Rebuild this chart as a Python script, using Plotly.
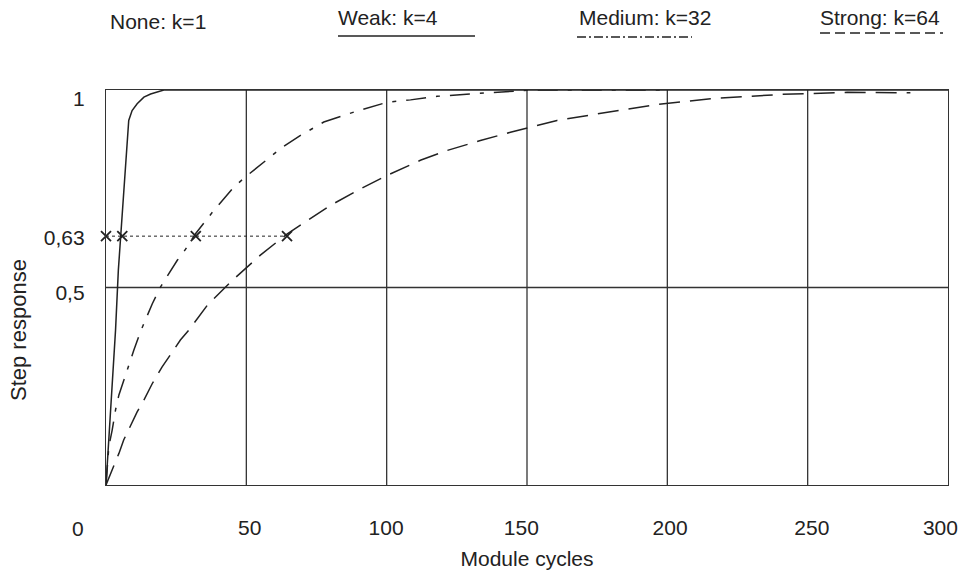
import plotly.graph_objects as go

# ---------------- data ----------------
weak_t = [0, 3.4, 4.4, 5.2, 7.8, 8.1, 9.3, 11.1, 13.5, 15.9, 20.6, 300]
weak_v = [0, 0.392, 0.544, 0.630, 0.893, 0.923, 0.948, 0.965, 0.982, 0.990, 1.0, 1.0]

medium_t = [0, 1.0, 2.2, 3.4, 4.6, 6.1, 9.9, 12.5, 16.5, 19.4, 25.4, 27.7, 31.9, 38.4,
            45.5, 49.7, 58.6, 62.8, 69.3, 77.6, 88.3, 100.2, 108.5, 118.0, 129.9,
            145.3, 152.3, 200]
medium_v = [0, 0.097, 0.139, 0.190, 0.228, 0.261, 0.341, 0.392, 0.459, 0.501, 0.569,
            0.590, 0.636, 0.695, 0.754, 0.780, 0.830, 0.855, 0.885, 0.919, 0.944,
            0.969, 0.975, 0.984, 0.990, 0.996, 1.0, 1.0]

strong_t = [0, 2.2, 4.6, 6.3, 9.3, 11.1, 13.5, 16.5, 20.0, 22.4, 26.5, 29.5, 36.1, 44.4,
            49.7, 55.0, 64.6, 71.1, 80.0, 90.7, 100.2, 112.0, 121.6, 133.4, 144.1,
            160.7, 176.8, 195.8, 215.4, 240.9, 264.1, 286.6]
strong_v = [0, 0.038, 0.080, 0.114, 0.160, 0.185, 0.215, 0.257, 0.299, 0.324, 0.367,
            0.392, 0.455, 0.514, 0.548, 0.582, 0.636, 0.666, 0.708, 0.750, 0.784,
            0.822, 0.847, 0.872, 0.893, 0.923, 0.941, 0.963, 0.978, 0.989, 0.994, 0.993]

# time constants marked with "x" at the 63 % level
tau_marks = [0, 5.8, 32, 64.5]
level_63 = 0.63

legend_labels = ["None: k=1", "Weak: k=4", "Medium: k=32", "Strong: k=64"]

x_tick_values = [0, 50, 100, 150, 200, 250, 300]
x_tick_text = ["0", "50", "100", "150", "200", "250", "300"]
y_tick_values = [1, 0.63, 0.5]
y_tick_text = ["1", "0,63", "0,5"]
x_grid = [50, 100, 150, 200, 250]
y_grid = [0.5]

x_title = "Module cycles"
y_title = "Step response"

# ---------------- layout helpers ----------------
W, H = 964, 574
L, R, T, B = 106, 16, 90, 89
PW, PH = W - L - R, H - T - B
FONT = "Liberation Sans, Arial, sans-serif"
FS = 21
TXT = "#222222"
LINE = "#222222"
FRAME = "#333333"


def fx(px):
    return (px - L) / PW


def fy(py):
    return (H - B - py) / PH


fig = go.Figure()

fig.add_trace(go.Scatter(x=weak_t, y=weak_v, mode="lines",
                         line=dict(color=LINE, width=1.5), showlegend=False))
fig.add_trace(go.Scatter(x=medium_t, y=medium_v, mode="lines",
                         line=dict(color=LINE, width=1.5, dash="20px,10px,4px,10px"),
                         showlegend=False))
fig.add_trace(go.Scatter(x=strong_t, y=strong_v, mode="lines",
                         line=dict(color=LINE, width=1.5, dash="21px,10px"),
                         showlegend=False))
fig.add_trace(go.Scatter(x=tau_marks, y=[level_63] * len(tau_marks), mode="lines+markers",
                         line=dict(color=LINE, width=1, dash="dot"),
                         marker=dict(symbol="x-thin", size=10, color=LINE,
                                     line=dict(color=LINE, width=1.8)),
                         cliponaxis=False, showlegend=False))

shapes = []
for g in x_grid:
    shapes.append(dict(type="line", xref="x", yref="paper", x0=g, x1=g, y0=0, y1=1,
                       line=dict(color=FRAME, width=1.3), layer="below"))
for g in y_grid:
    shapes.append(dict(type="line", xref="paper", yref="y", x0=0, x1=1, y0=g, y1=g,
                       line=dict(color=FRAME, width=1.3), layer="below"))

# legend: texts on top with sample lines underneath
legend_pos = [(157.5, 22), (388, 17.5), (644.5, 17.5), (880, 17.5)]
legend_lines = [None, (338, 475, 36, "solid"), (577, 692, 37, "9px,3px,2px,3px"),
                (820, 943, 33, "10px,5px")]
annotations = []
for lab, (cx, cy) in zip(legend_labels, legend_pos):
    annotations.append(dict(text=lab, xref="paper", yref="paper", x=fx(cx), y=fy(cy),
                            xanchor="center", yanchor="middle", showarrow=False,
                            font=dict(family=FONT, size=FS, color=TXT)))
for ln in legend_lines:
    if ln is None:
        continue
    x0, x1, yy, dash = ln
    shapes.append(dict(type="line", xref="paper", yref="paper", x0=fx(x0), x1=fx(x1),
                       y0=fy(yy), y1=fy(yy), line=dict(color=LINE, width=1.3, dash=dash)))

# the "0" tick label sits well left of the axis origin in the reference
annotations.append(dict(text=x_tick_text[0], xref="paper", yref="paper", x=fx(77.7), y=0,
                        yshift=-43, xanchor="center", yanchor="middle", showarrow=False,
                        font=dict(family=FONT, size=FS, color=TXT)))

# y axis title sits below the middle of the axis in the reference
annotations.append(dict(text=y_title, xref="paper", yref="paper", x=fx(18), y=fy(330),
                        xanchor="center", yanchor="middle", textangle=-90, showarrow=False,
                        font=dict(family=FONT, size=22, color=TXT)))

x_nudge = [0, 1.2, -0.2, -2.0, 1.0, 1.5, -2.7]
y_nudge = [-0.0215, -0.003, -0.012]

fig.update_layout(
    width=W, height=H,
    margin=dict(l=L, r=R, t=T, b=B, autoexpand=False),
    paper_bgcolor="white", plot_bgcolor="white",
    font=dict(family=FONT, size=FS, color=TXT),
    shapes=shapes, annotations=annotations,
    xaxis=dict(range=[0, 300], showgrid=False, zeroline=False,
               showline=True, mirror=True, linecolor=FRAME, linewidth=1.3,
               tickmode="array",
               tickvals=[v + d for v, d in zip(x_tick_values, x_nudge)][1:],
               ticktext=x_tick_text[1:], ticks="", ticklabelstandoff=24,
               title=dict(text=x_title, standoff=12,
                          font=dict(family=FONT, size=FS, color=TXT)),
               automargin=False, fixedrange=True),
    yaxis=dict(range=[0, 1], showgrid=False, zeroline=False,
               showline=True, mirror=True, linecolor=FRAME, linewidth=1.3,
               tickmode="array",
               tickvals=[v + d for v, d in zip(y_tick_values, y_nudge)],
               ticktext=y_tick_text, ticks="", ticklabelstandoff=16,
               automargin=False, fixedrange=True),
)

fig.write_html("out.html", config={"displayModeBar": False},
               post_script="document.body.style.margin='0';")
